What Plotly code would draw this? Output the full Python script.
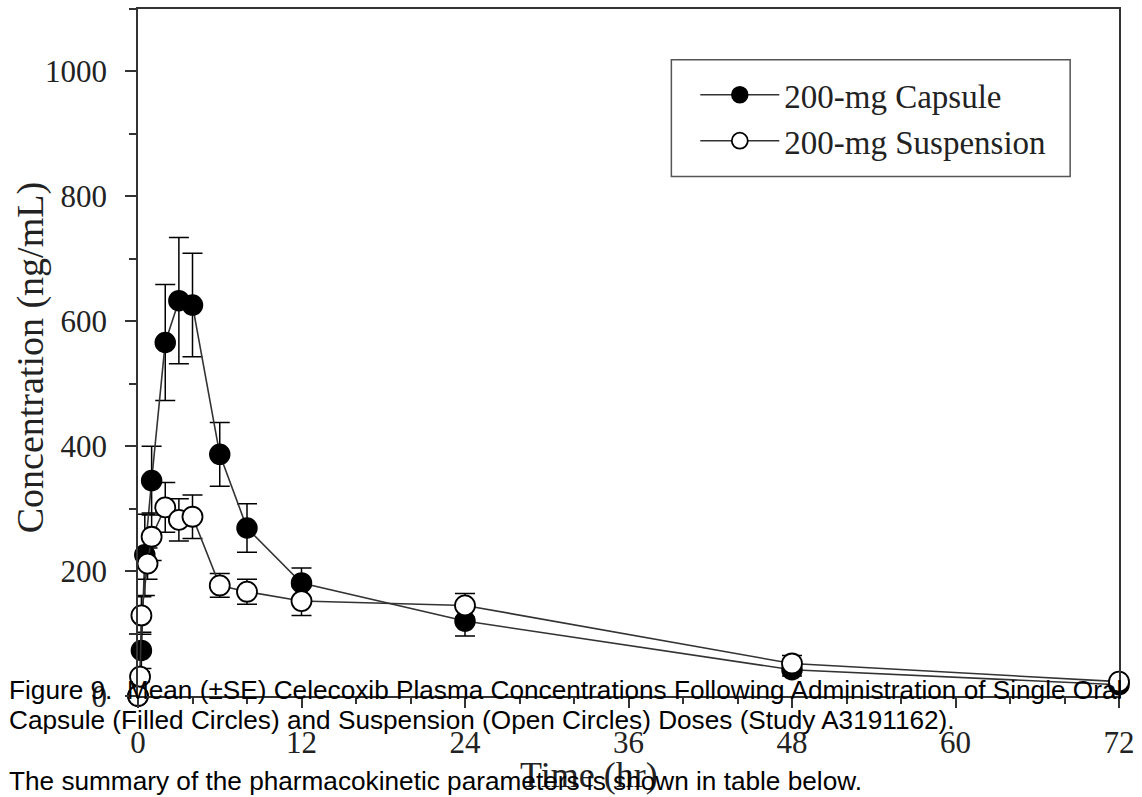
import plotly.graph_objects as go

# Data
capsule_time = [0, 0.25, 0.5, 1, 2, 3, 4, 6, 8, 12, 24, 48, 72]
capsule_conc = [0, 73, 226, 345, 566, 633, 626, 387, 269, 181, 120, 42, 18]
capsule_se = [0, 29, 65, 55, 93, 101, 83, 51, 39, 24, 24, 10, 5]

susp_time = [0, 0.15, 0.25, 0.7, 1, 2, 3, 4, 6, 8, 12, 24, 48, 72]
susp_conc = [0, 31, 129, 212, 255, 302, 282, 287, 177, 167, 152, 145, 52, 23]
susp_se = [0, 8, 30, 25, 38, 40, 34, 35, 19, 20, 23, 19, 13, 5]

x_ticks = [0, 12, 24, 36, 48, 60, 72]
y_ticks = [0, 200, 400, 600, 800, 1000]

SERIF = "Liberation Serif, Times New Roman, serif"
SANS = "Liberation Sans, Arial, sans-serif"
INK = "#222222"
LINE = "#333333"

fig = go.Figure()
fig.add_trace(go.Scatter(
    x=capsule_time, y=capsule_conc, name="200-mg Capsule", mode="lines+markers",
    line=dict(color=LINE, width=1.6),
    marker=dict(symbol="circle", size=20, color="black", line=dict(color="black", width=1.5)),
    error_y=dict(type="data", array=capsule_se, color="black", thickness=1.5, width=10),
    cliponaxis=False,
))
fig.add_trace(go.Scatter(
    x=susp_time, y=susp_conc, name="200-mg Suspension", mode="lines+markers",
    line=dict(color=LINE, width=1.6),
    marker=dict(symbol="circle", size=20, color="white", line=dict(color="black", width=1.8)),
    error_y=dict(type="data", array=susp_se, color="black", thickness=1.5, width=10),
    cliponaxis=False,
))

L, R, T, B = 138, 20, 7, 101
W, H = 1142, 797
pw, ph = W - L - R, H - T - B

def px_x(p):
    return (p - L) / pw

def px_y(p):
    return (H - B - p) / ph

fig.update_layout(
    width=W, height=H,
    margin=dict(l=L, r=R, t=T, b=B),
    paper_bgcolor="white", plot_bgcolor="white",
    showlegend=True,
    legend=dict(
        x=px_x(697), y=px_y(65), xanchor="left", yanchor="top",
        bgcolor="rgba(0,0,0,0)", borderwidth=0,
        font=dict(family=SERIF, size=33, color=INK),
        itemwidth=79, tracegroupgap=0,
    ),
    xaxis=dict(
        range=[0, 72], tickvals=x_ticks, ticktext=[str(v) for v in x_ticks],
        ticks="outside", ticklen=10, tickwidth=1.5, tickcolor=LINE,
        minor=dict(dtick=4, ticks="outside", ticklen=6, tickwidth=1.5, tickcolor=LINE),
        showline=True, linecolor=LINE, linewidth=1.5, mirror=True,
        showgrid=False, zeroline=False,
        tickfont=dict(family=SERIF, size=31, color=INK),
        ticklabelstandoff=8,
    ),
    yaxis=dict(
        range=[0, 1100], tickvals=y_ticks, ticktext=[str(v) for v in y_ticks],
        ticks="outside", ticklen=11, tickwidth=1.5, tickcolor=LINE,
        minor=dict(dtick=100, ticks="outside", ticklen=7, tickwidth=1.5, tickcolor=LINE),
        showline=True, linecolor=LINE, linewidth=1.5, mirror=True,
        showgrid=False, zeroline=False,
        tickfont=dict(family=SERIF, size=31, color=INK),
        ticklabelstandoff=12,
    ),
    shapes=[dict(
        type="rect", xref="paper", yref="paper",
        x0=px_x(673), x1=px_x(1073), y0=px_y(175), y1=px_y(58),
        line=dict(color="#555555", width=1.5), fillcolor="rgba(0,0,0,0)",
    )],
    annotations=[
        dict(text="Concentration (ng/mL)", xref="paper", yref="paper",
             x=px_x(31), y=px_y(357), xanchor="center", yanchor="middle",
             textangle=-90, showarrow=False,
             font=dict(family=SERIF, size=38, color=INK)),
        dict(text="Time (hr)", xref="paper", yref="paper",
             x=px_x(590), y=px_y(775), xanchor="center", yanchor="middle",
             showarrow=False, font=dict(family=SERIF, size=36, color=INK)),
        dict(text="Figure 9.  Mean (±SE) Celecoxib Plasma Concentrations Following Administration of Single Oral",
             xref="paper", yref="paper", x=px_x(7), y=px_y(690),
             xanchor="left", yanchor="middle", showarrow=False,
             font=dict(family=SANS, size=26.2, color="black")),
        dict(text="Capsule (Filled Circles) and Suspension (Open Circles) Doses (Study A3191162).",
             xref="paper", yref="paper", x=px_x(7), y=px_y(720),
             xanchor="left", yanchor="middle", showarrow=False,
             font=dict(family=SANS, size=26.2, color="black")),
        dict(text="The summary of the pharmacokinetic parameters is shown in table below.",
             xref="paper", yref="paper", x=px_x(7), y=px_y(781),
             xanchor="left", yanchor="middle", showarrow=False,
             font=dict(family=SANS, size=26.2, color="black")),
    ],
)

fig.write_html("out.html")
